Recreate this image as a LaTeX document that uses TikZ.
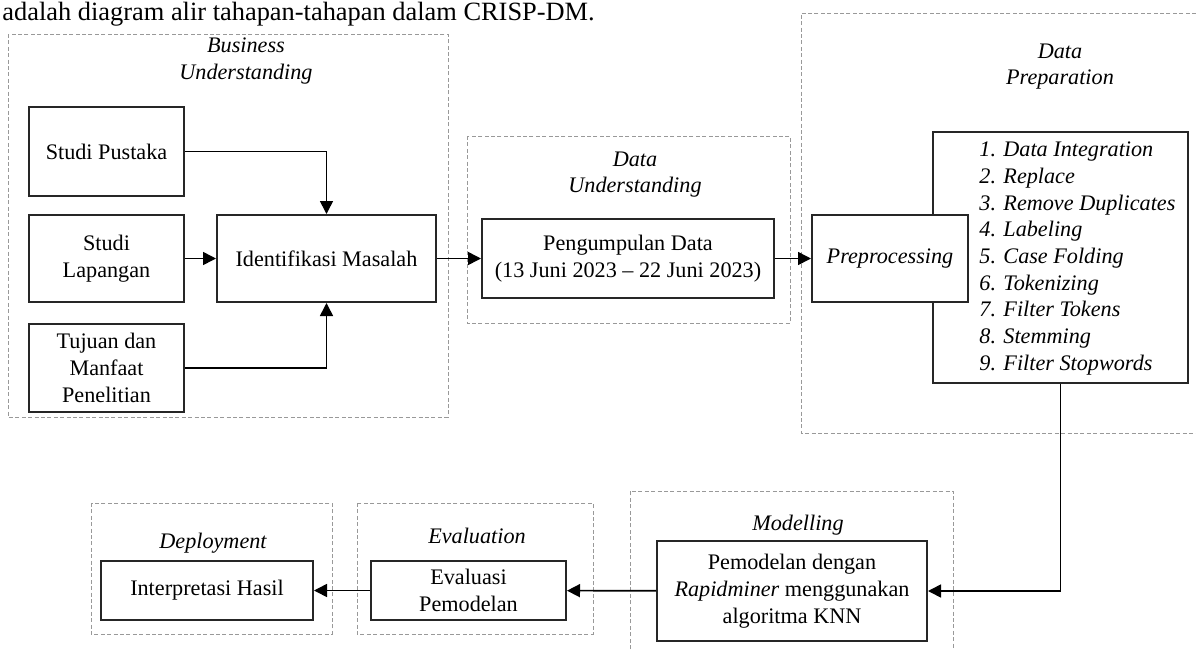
\documentclass[tikz,border=0pt]{standalone}
\usepackage{fontspec}
\setmainfont{Liberation Serif}
\usetikzlibrary{arrows.meta,positioning}

\begin{document}
\begin{tikzpicture}[
  x=0.5pt, y=-0.5pt,
  font=\fontsize{11.1}{13.35}\selectfont,
  box/.style={draw=black!85, line width=1pt, fill=white, inner sep=0pt,
    align=center},
  phase/.style={draw=black!40, line width=0.5pt, dash pattern=on 2pt off 1.2pt},
  title/.style={font=\fontsize{11.1}{13.35}\selectfont\itshape, align=center},
  arr/.style={-{Triangle[length=6.5pt,width=6.5pt]}, line width=0.8pt}]
\useasboundingbox (0,0) rectangle (1196,649);
\node[anchor=base west, inner sep=0pt, font=\fontsize{13.2}{15}\selectfont]
  (caption) at (2,20) {adalah diagram alir tahapan-tahapan dalam CRISP-DM.};
\draw[phase] (8,34) rectangle (448,417);
\draw[phase] (467,136) rectangle (790,323);
\draw[phase] (1196,13) -- (801,13) -- (801,433) -- (1196,433);
\draw[phase] (630,649) |- (953,491) -- (953,649);
\draw[phase] (357,503) rectangle (593,634);
\draw[phase] (91,503) rectangle (332,634);
\node[title] (tbu) at (246,61) {Business\\Understanding};
\node[title] (tdu) at (635,174.5) {Data\\Understanding};
\node[title] (tdp) at (1060,66.5) {Data\\Preparation};
\node[title] (tmo) at (798,525) {Modelling};
\node[title] (tev) at (477,536) {Evaluation};
\node[title] (tde) at (213,543) {Deployment};
\node[box, minimum width=77.5pt, minimum height=44.5pt] (pustaka)
  at (106.5,151.5) {Studi Pustaka};
\node[box, minimum width=77.5pt, minimum height=43.5pt] (lapangan)
  at (106.5,258.5) {Studi\\Lapangan};
\node[box, minimum width=77.5pt, minimum height=44pt] (tujuan)
  at (106.5,368) {Tujuan dan\\Manfaat\\Penelitian};
\node[box, minimum width=109.5pt, minimum height=43.5pt] (identifikasi)
  at (326.5,258.5) {Identifikasi Masalah};
\node[box, minimum width=146pt, minimum height=39.5pt] (pengumpulan)
  at (628,258.5) {Pengumpulan Data\\(13 Juni 2023 -- 22 Juni 2023)};
\node[box, minimum width=127.5pt, minimum height=125.5pt] (steps)
  at (1060.5,257.5) {};
\node[anchor=west, inner sep=0pt, align=left, font=\fontsize{11.1}{13.35}\selectfont\itshape]
  (steplist) at (979,258.5) {1. Data Integration\\2. Replace\\3. Remove Duplicates\\
  4. Labeling\\5. Case Folding\\6. Tokenizing\\7. Filter Tokens\\8. Stemming\\
  9. Filter Stopwords};
\node[box, minimum width=78pt, minimum height=43.5pt, font=\fontsize{11.1}{13.35}\selectfont\itshape]
  (prepro) at (890,258.5) {Preprocessing};
\node[box, minimum width=135pt, minimum height=50pt] (modelling)
  at (792,591) {Pemodelan dengan\\\textit{Rapidminer} menggunakan\\algoritma KNN};
\node[box, minimum width=97.5pt, minimum height=29.5pt] (evaluasi)
  at (468.5,590.5) {Evaluasi\\Pemodelan};
\node[box, minimum width=106pt, minimum height=29.5pt] (interpretasi)
  at (207,590.5) {Interpretasi Hasil};
\draw[arr] (pustaka) -| (identifikasi);
\draw[arr] (lapangan) -- (identifikasi);
\draw[arr] (tujuan) -| (identifikasi);
\draw[arr] (identifikasi) -- (pengumpulan);
\draw[arr] (pengumpulan) -- (prepro);
\draw[arr] (steps.south) |- (modelling.east);
\draw[arr] (modelling) -- (evaluasi);
\draw[arr] (evaluasi) -- (interpretasi);
\end{tikzpicture}
\end{document}
